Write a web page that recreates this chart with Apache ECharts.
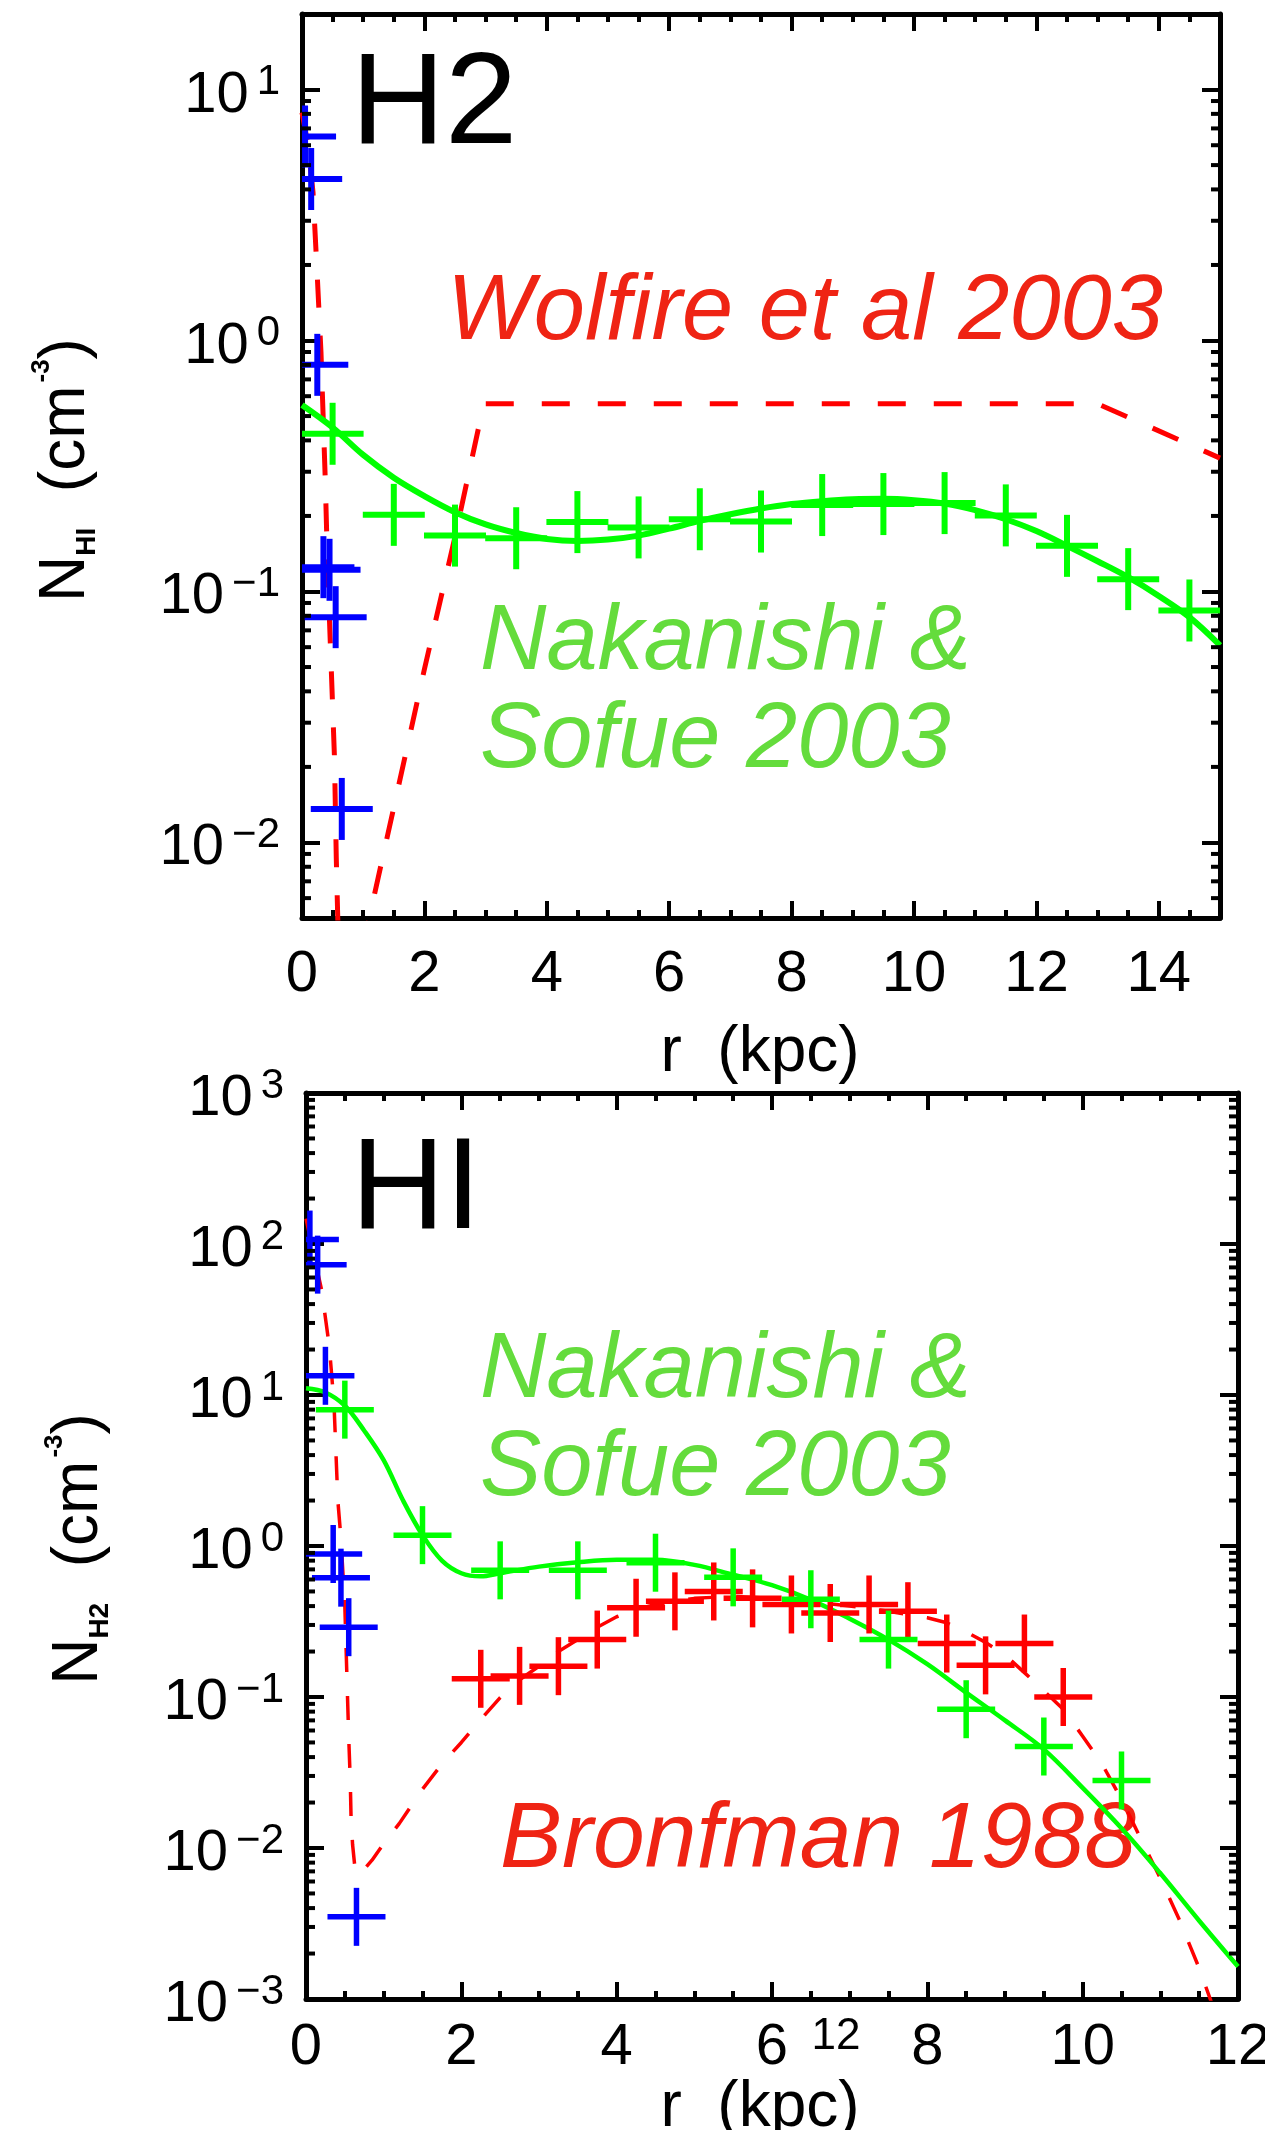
<!DOCTYPE html>
<html><head><meta charset="utf-8">
<script src="https://cdn.jsdelivr.net/npm/echarts@6/dist/echarts.min.js"></script>
<style>html,body{margin:0;padding:0;background:#fff;}#c{width:1265px;height:2130px;}</style>
</head><body><div id="c"></div>
<script>
// ================= DATA =================
// ---- Top panel ("H2") ----
const topXTickLabels = [0, 2, 4, 6, 8, 10, 12, 14];
const topYTickLabels = [0.01, 0.1, 1, 10];
const topGreenR = [0.5, 1.5, 2.5, 3.5, 4.5, 5.5, 6.5, 7.5, 8.5, 9.5, 10.5, 11.5, 12.5, 13.5, 14.5];
const topGreenN = [0.425, 0.202, 0.167, 0.163, 0.189, 0.180, 0.194, 0.190, 0.221, 0.223, 0.225, 0.201, 0.152, 0.112, 0.084];
const topFitR = [0, 0.5, 1, 1.5, 2, 2.5, 3, 3.5, 4, 4.5, 5, 5.5, 6, 6.5, 7, 7.5, 8, 8.5, 9, 9.5, 10, 10.5, 11, 11.5, 12, 12.5, 13, 13.5, 14, 14.5, 15];
const topFitN = [0.553, 0.45, 0.35, 0.284, 0.24, 0.207, 0.185, 0.171, 0.162, 0.159, 0.161, 0.167, 0.178, 0.191, 0.203, 0.214, 0.223, 0.229, 0.233, 0.234, 0.231, 0.224, 0.211, 0.194, 0.174, 0.152, 0.132, 0.114, 0.096, 0.079, 0.061];
const topBlueR = [0.05, 0.15, 0.25, 0.35, 0.45, 0.55, 0.65];
const topBlueN = [6.5, 4.4, 0.80, 0.125, 0.122, 0.079, 0.0136];
const topWolfireR = [0, 0.1, 0.18, 0.25, 0.31, 0.38, 0.42, 0.49, 0.53, 0.56, 0.585, 0.62, 1.0, 1.5, 2.0, 2.5, 2.97, 13.0, 15.0];
const topWolfireN = [8.1, 6.0, 3.9, 1.8, 0.9, 0.28, 0.12, 0.041, 0.022, 0.0087, 0.0049, 0.003, 0.0039, 0.0138, 0.049, 0.165, 0.56, 0.56, 0.34];

// ---- Bottom panel ("HI") ----
const botXTickLabels = [0, 2, 4, 6, 8, 10, 12];
const botYTickLabels = [0.001, 0.01, 0.1, 1, 10, 100, 1000];
const botBlueR = [0.05, 0.15, 0.25, 0.35, 0.45, 0.55, 0.65];
const botBlueN = [107, 73, 13.4, 0.885, 0.617, 0.29, 0.0035];
const botGreenR = [0.5, 1.5, 2.5, 3.5, 4.5, 5.5, 6.5, 7.5, 8.5, 9.5, 10.5];
const botGreenN = [8.0, 1.18, 0.69, 0.69, 0.775, 0.62, 0.444, 0.24, 0.083, 0.047, 0.028];
const botFitR = [0, 0.25, 0.5, 0.75, 1, 1.25, 1.5, 1.75, 2, 2.25, 2.5, 3, 3.5, 4, 4.5, 5, 5.5, 6, 6.5, 7, 7.5, 8, 8.5, 9, 9.5, 10, 10.5, 11, 11.5, 12];
const botFitN = [11.1, 10.4, 8.5, 5.8, 3.7, 2.0, 1.18, 0.8, 0.66, 0.63, 0.66, 0.73, 0.78, 0.81, 0.81, 0.75, 0.645, 0.55, 0.44, 0.33, 0.24, 0.165, 0.107, 0.07, 0.045, 0.025, 0.0135, 0.0068, 0.0033, 0.00164];
const bronfR = [2.25, 2.75, 3.25, 3.75, 4.25, 4.75, 5.25, 5.75, 6.25, 6.75, 7.25, 7.75, 8.25, 8.75, 9.25, 9.75];
const bronfN = [0.132, 0.138, 0.16, 0.24, 0.39, 0.43, 0.50, 0.45, 0.41, 0.36, 0.41, 0.37, 0.226, 0.162, 0.226, 0.10];
const bronfLineR = [0, 0.1, 0.2, 0.3, 0.36, 0.41, 0.45, 0.5, 0.53, 0.55, 0.57, 0.58, 0.6, 0.63, 0.68, 0.85, 1.0, 1.2, 1.5, 1.75, 2.0, 2.25, 2.5, 2.75, 3.0, 3.25, 3.5, 3.75, 4.0, 4.25, 4.5, 5.0, 5.5, 6.0, 6.5, 7.0, 7.5, 8.0, 8.25, 8.5, 8.75, 9.0, 9.25, 9.5, 9.75, 10.0, 10.25, 10.5, 10.75, 11.0, 11.25, 11.5, 11.75];
const bronfLineN = [147, 85, 50, 21, 8.9, 2.0, 1.12, 0.4, 0.12, 0.054, 0.028, 0.016, 0.0105, 0.0074, 0.0066, 0.0083, 0.0107, 0.0145, 0.0245, 0.036, 0.05, 0.071, 0.099, 0.13, 0.16, 0.20, 0.24, 0.29, 0.34, 0.38, 0.41, 0.45, 0.465, 0.45, 0.43, 0.40, 0.37, 0.335, 0.31, 0.27, 0.23, 0.19, 0.145, 0.11, 0.083, 0.055, 0.036, 0.021, 0.0115, 0.0063, 0.0033, 0.0016, 0.0007];

// ================= STYLE / LAYOUT =================
const FONT = "'Liberation Sans', Helvetica, Arial, sans-serif";
const RED = '#ff0000', GREEN = '#00ff00', BLUE = '#0000ff';
const TXT_RED = '#ef2414', TXT_GREEN = '#64dc3c';
const TOP = {xMin: 0, xMax: 15, yMin: 0.005, yMax: 20};
const BOT = {xMin: 0, xMax: 12, yMin: 0.001, yMax: 1000};

function pairs(xs, ys) { return xs.map((x, i) => [x, ys[i]]); }
function minorLog(lo, hi) {
  const out = [];
  for (let k = -4; k <= 3; k++) for (let m = 2; m <= 9; m++) {
    const v = m * Math.pow(10, k);
    if (v > lo * 1.0001 && v < hi * 0.9999) out.push(v);
  }
  return out;
}
function powLabel(list) {
  return function (v) {
    for (const t of list) {
      if (Math.abs(v / t - 1) < 1e-6) {
        const e = Math.round(Math.log10(t));
        return '{b|10}{s|' + (e < 0 ? '\u2212' + (-e) : String(e)) + '}';
      }
    }
    return '';
  };
}
function numLabel(list) {
  return function (v) { return list.some(t => Math.abs(v - t) < 1e-9) ? String(v) : ''; };
}
const lineBlack = {color: '#000', width: 5};
const tickStyle = {color: '#000', width: 4};

function xAxes(grid, rng, labels, labelMargin) {
  const base = {gridIndex: grid, type: 'value', min: rng.xMin, max: rng.xMax, splitLine: {show: false}};
  return [
    Object.assign({}, base, {position: 'bottom', interval: 2,
      axisLine: {show: true, onZero: false, lineStyle: lineBlack},
      axisTick: {show: true, inside: true, length: 17, lineStyle: tickStyle},
      axisLabel: {show: true, margin: labelMargin, fontSize: 58, lineHeight: 58, fontFamily: FONT, color: '#000',
        formatter: numLabel(labels), showMinLabel: true, showMaxLabel: true}}),
    Object.assign({}, base, {position: 'bottom', interval: 0.5,
      axisLine: {show: false, onZero: false},
      axisTick: {show: true, inside: true, length: 8, lineStyle: tickStyle},
      axisLabel: {show: false}}),
    Object.assign({}, base, {position: 'top', interval: 2,
      axisLine: {show: true, onZero: false, lineStyle: lineBlack},
      axisTick: {show: true, inside: true, length: 17, lineStyle: tickStyle},
      axisLabel: {show: false}}),
    Object.assign({}, base, {position: 'top', interval: 0.5,
      axisLine: {show: false, onZero: false},
      axisTick: {show: true, inside: true, length: 8, lineStyle: tickStyle},
      axisLabel: {show: false}})
  ];
}
function yAxes(grid, rng, labels) {
  const base = {gridIndex: grid, type: 'log', logBase: 10, min: rng.yMin, max: rng.yMax, splitLine: {show: false}};
  return [
    Object.assign({}, base, {position: 'left',
      axisLine: {show: true, onZero: false, lineStyle: lineBlack},
      axisTick: {show: true, inside: true, length: 18, lineStyle: tickStyle},
      axisLabel: {show: true, margin: 22, formatter: powLabel(labels), padding: [12, 0, 0, 0],
        rich: {
          b: {fontSize: 58, lineHeight: 58, height: 58, fontFamily: FONT, color: '#000'},
          s: {fontSize: 42, lineHeight: 32, height: 32, fontFamily: FONT, color: '#000', verticalAlign: 'top', padding: [0, 0, 0, 8]}
        }}}),
    Object.assign({}, base, {position: 'right',
      axisLine: {show: true, onZero: false, lineStyle: lineBlack},
      axisTick: {show: true, inside: true, length: 18, lineStyle: tickStyle},
      axisLabel: {show: false}})
  ];
}
function crossSeries(xi, yi, xs, ys, color, hw, hh, lw) {
  return {
    type: 'custom', xAxisIndex: xi, yAxisIndex: yi, clip: true, silent: true, z: 6,
    data: pairs(xs, ys), encode: {x: 0, y: 1},
    renderItem: function (params, api) {
      const p = api.coord([api.value(0), api.value(1)]);
      return {type: 'group', children: [
        {type: 'line', shape: {x1: p[0] - hw, y1: p[1], x2: p[0] + hw, y2: p[1]}, style: {stroke: color, lineWidth: lw}},
        {type: 'line', shape: {x1: p[0], y1: p[1] - hh, x2: p[0], y2: p[1] + hh}, style: {stroke: color, lineWidth: lw}}
      ]};
    }
  };
}
function minorTickSeries(xi, yi, rng, len) {
  return {
    type: 'custom', xAxisIndex: xi, yAxisIndex: yi, clip: false, silent: true, z: 7,
    data: minorLog(rng.yMin, rng.yMax).map(v => [rng.xMin, v]), encode: {x: 0, y: 1},
    renderItem: function (params, api) {
      const a = api.coord([rng.xMin, api.value(1)]);
      const b = api.coord([rng.xMax, api.value(1)]);
      return {type: 'group', children: [
        {type: 'line', shape: {x1: a[0], y1: a[1], x2: a[0] + len, y2: a[1]}, style: {stroke: '#000', lineWidth: 4}},
        {type: 'line', shape: {x1: b[0] - len, y1: b[1], x2: b[0], y2: b[1]}, style: {stroke: '#000', lineWidth: 4}}
      ]};
    }
  };
}
function lineSeries(xi, yi, xs, ys, color, width, dash, smooth) {
  return {
    type: 'line', xAxisIndex: xi, yAxisIndex: yi, data: pairs(xs, ys), showSymbol: false, symbol: 'none',
    clip: true, silent: true, z: 5, smooth: smooth ? 0.35 : false,
    lineStyle: {color: color, width: width, type: dash || 'solid', cap: 'butt'}
  };
}
function txt(x, y, s, size, color, italic, align) {
  return {type: 'text', x: x, y: y, z: 1, silent: true,
    style: {text: s, fontSize: size, fontFamily: FONT, fontStyle: italic ? 'italic' : 'normal',
      fill: color, align: align || 'left', verticalAlign: 'middle'}};
}
function yTitle(x, y, sub) {
  return {type: 'text', x: x, y: y, rotation: Math.PI / 2, z: 1, silent: true,
    style: {text: '{m|N}{sub|' + sub + '}{m|  (cm}{sup|-3}{m|)}', align: 'center', verticalAlign: 'middle',
      rich: {
        m: {fontSize: 64, lineHeight: 64, height: 64, fontFamily: FONT, fill: '#000', color: '#000'},
        sub: {fontSize: 28, fontWeight: 'bold', lineHeight: 21, height: 21, fontFamily: FONT, fill: '#000', color: '#000', verticalAlign: 'bottom'},
        sup: {fontSize: 26, fontWeight: 'bold', lineHeight: 16, height: 16, fontFamily: FONT, fill: '#000', color: '#000', verticalAlign: 'top', padding: [0, 0, 0, 3]}
      }}};
}

const chart = echarts.init(document.getElementById('c'), null, {renderer: 'canvas', width: 1265, height: 2130});
chart.setOption({
  animation: false,
  backgroundColor: '#fff',
  grid: [
    {left: 302, top: 14, width: 918, height: 904, outerBoundsMode: 'none', containLabel: false},
    {left: 306, top: 1093, width: 932, height: 906, outerBoundsMode: 'none', containLabel: false}
  ],
  xAxis: [].concat(xAxes(0, TOP, topXTickLabels, 28), xAxes(1, BOT, botXTickLabels, 20)),
  yAxis: [].concat(yAxes(0, TOP, topYTickLabels), yAxes(1, BOT, botYTickLabels)),
  series: [
    lineSeries(0, 0, topWolfireR, topWolfireN, RED, 5, [28, 28], false),
    lineSeries(0, 0, topFitR, topFitN, GREEN, 6, null, true),
    crossSeries(0, 0, topBlueR, topBlueN, BLUE, 31, 31, 6),
    crossSeries(0, 0, topGreenR, topGreenN, GREEN, 31, 31, 6),
    minorTickSeries(0, 0, TOP, 9),

    lineSeries(4, 2, bronfLineR, bronfLineN, RED, 3.5, [24, 24], false),
    lineSeries(4, 2, botFitR, botFitN, GREEN, 4.5, null, true),
    crossSeries(4, 2, botBlueR, botBlueN, BLUE, 29, 29, 5.5),
    crossSeries(4, 2, bronfR, bronfN, RED, 29, 29, 5.5),
    crossSeries(4, 2, botGreenR, botGreenN, GREEN, 29, 29, 5.5),
    minorTickSeries(4, 2, BOT, 9)
  ],
  graphic: [
    txt(351, 107, 'H2', 130, '#000', false),
    txt(447, 313, 'Wolfire et al 2003', 92, TXT_RED, true),
    txt(480, 643, 'Nakanishi &', 92, TXT_GREEN, true),
    txt(480, 741, 'Sofue 2003', 92, TXT_GREEN, true),
    txt(351, 1192, 'HI', 130, '#000', false),
    txt(480, 1371, 'Nakanishi &', 92, TXT_GREEN, true),
    txt(480, 1469, 'Sofue 2003', 92, TXT_GREEN, true),
    txt(500, 1841, 'Bronfman 1988', 93, TXT_RED, true),
    yTitle(66, 470, 'HI'),
    yTitle(79, 1549, 'H2'),
    txt(760, 1053, 'r  (kpc)', 64, '#000', false, 'center'),
    txt(760, 2108, 'r  (kpc)', 64, '#000', false, 'center'),
    txt(836, 2037, '12', 44, '#000', false, 'center')
  ]
});
</script></body></html>
